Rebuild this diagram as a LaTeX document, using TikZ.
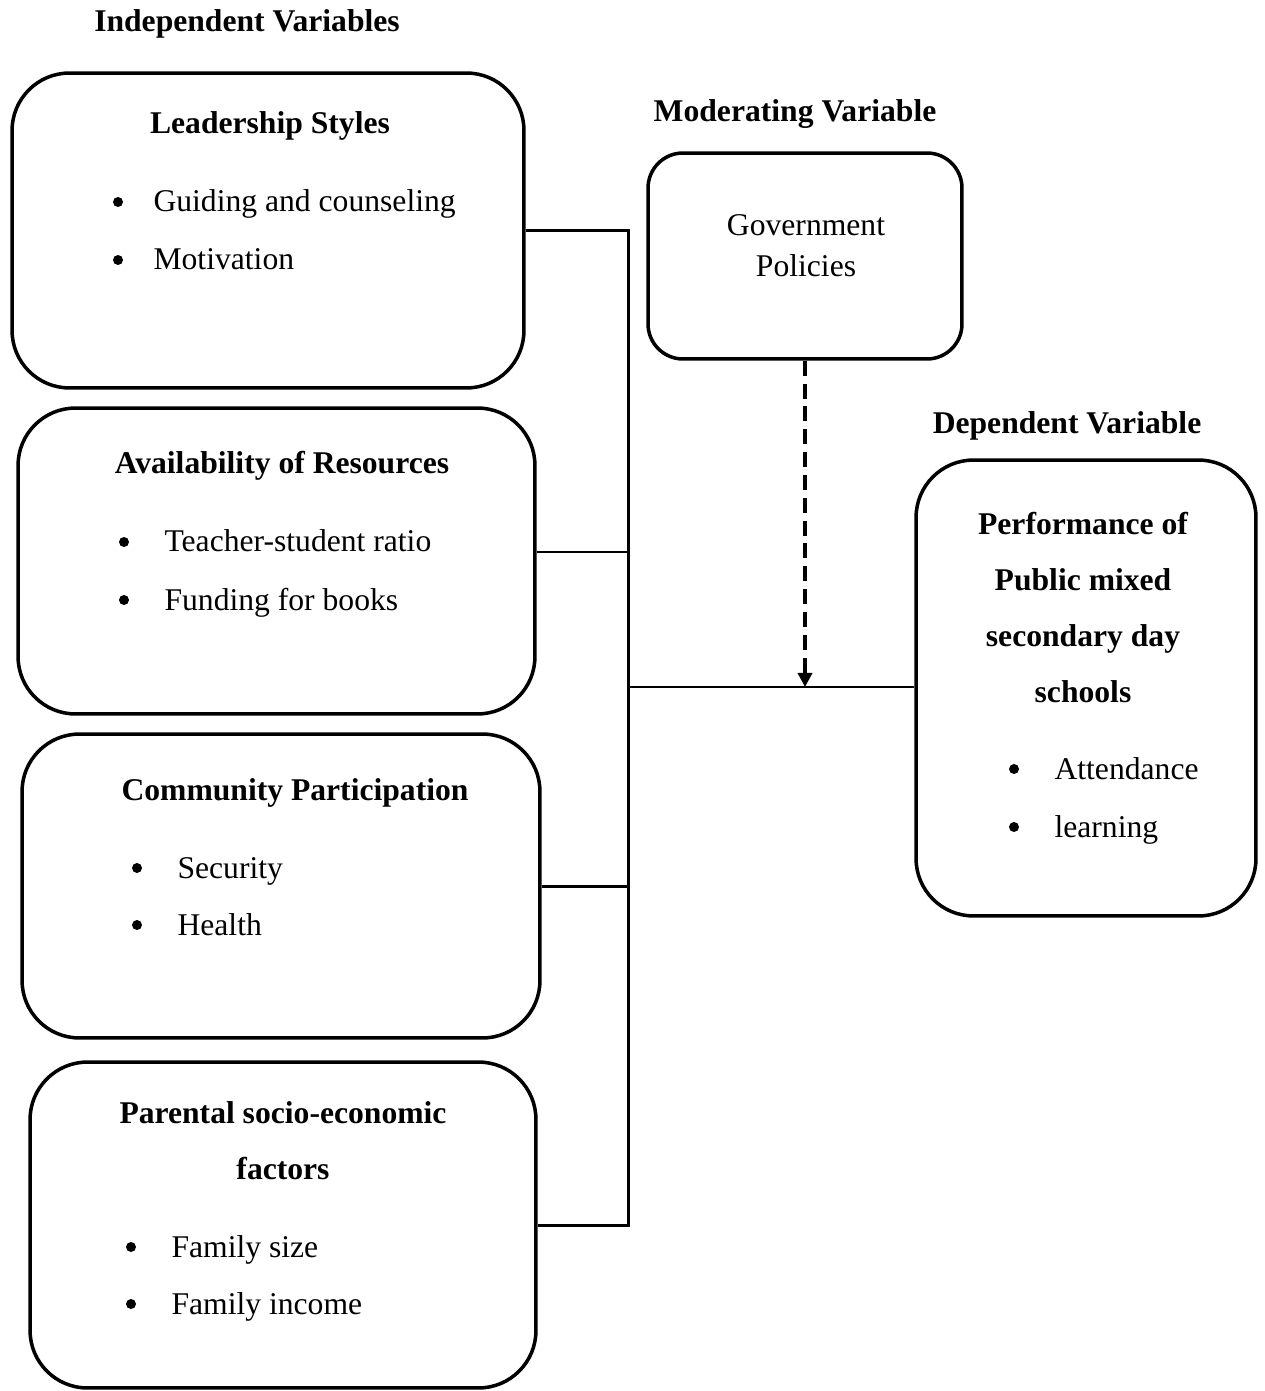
\documentclass[tikz,border=0pt]{standalone}
\usepackage{fontspec}
\setmainfont{Liberation Serif}
\usetikzlibrary{positioning,arrows.meta}

\begin{document}
\begin{tikzpicture}[x=0.02cm, y=-0.02cm,
    every node/.style={font=\fontsize{18}{22}\selectfont},
    varbox/.style={draw, line width=2pt, rounded corners=1.15cm, inner sep=0pt},
    heading/.style={font=\fontsize{18}{22}\selectfont\bfseries, anchor=base},
    plain/.style={anchor=base},
    dot/.style={circle, fill, inner sep=0pt, minimum size=0.2cm},
    item/.style={anchor=base west, yshift=-0.2cm},
    link/.style={line width=1.7pt}]
    \useasboundingbox (0,0) rectangle (1264,1391);

    % headings
    \node[heading] (indep) at (247,32) {Independent Variables};
    \node[heading] (moder) at (795,122) {Moderating Variable};
    \node[heading] (depen) at (1067,434) {Dependent Variable};

    % boxes
    \node[varbox, minimum width=10.24cm, minimum height=6.3cm] (lead) at (268,230.5) {};
    \node[varbox, minimum width=10.34cm, minimum height=6.12cm] (avail) at (276.5,561) {};
    \node[varbox, minimum width=10.36cm, minimum height=6.08cm] (comm) at (281,886) {};
    \node[varbox, minimum width=10.12cm, minimum height=6.52cm] (parent) at (283,1225) {};
    \node[varbox, rounded corners=0.7cm, minimum width=6.28cm, minimum height=4.12cm] (gov) at (805,256) {};
    \node[varbox, minimum width=6.8cm, minimum height=9.12cm] (perf) at (1086,688) {};

    % leadership styles
    \node[heading] (leadT) at (270,134) {Leadership Styles};
    \node[dot] (leadA) at (118,202) {};
    \node[right=0.48cm of leadA.east, item] (leadAt) {Guiding and counseling};
    \node[dot] (leadB) at (118,260) {};
    \node[right=0.48cm of leadB.east, item] (leadBt) {Motivation};

    % availability of resources
    \node[heading] (availT) at (282,474) {Availability of Resources};
    \node[dot] (availA) at (124,542) {};
    \node[right=0.58cm of availA.east, item] (availAt) {Teacher-student ratio};
    \node[dot] (availB) at (124,600) {};
    \node[right=0.58cm of availB.east, item] (availBt) {Funding for books};

    % community participation
    \node[heading] (commT) at (295,800) {Community Participation};
    \node[dot] (commA) at (137,868) {};
    \node[right=0.58cm of commA.east, item] (commAt) {Security};
    \node[dot] (commB) at (137,925) {};
    \node[right=0.58cm of commB.east, item] (commBt) {Health};

    % parental factors
    \node[heading] (parentT) at (283,1123) {Parental socio-economic};
    \node[heading] (parentU) at (283,1179) {factors};
    \node[dot] (parentA) at (131,1247) {};
    \node[right=0.58cm of parentA.east, item] (parentAt) {Family size};
    \node[dot] (parentB) at (131,1304) {};
    \node[right=0.58cm of parentB.east, item] (parentBt) {Family income};

    % government policies
    \node[plain] (govT) at (806,236) {Government};
    \node[plain] (govU) at (806,277) {Policies};

    % performance
    \node[heading] (perfT) at (1083,534) {Performance of};
    \node[heading] (perfU) at (1083,590) {Public mixed};
    \node[heading] (perfV) at (1083,646) {secondary day};
    \node[heading] (perfW) at (1083,702) {schools};
    \node[dot] (perfA) at (1014,769) {};
    \node[right=0.58cm of perfA.east, item] (perfAt) {Attendance};
    \node[dot] (perfB) at (1014,827) {};
    \node[right=0.58cm of perfB.east, item] (perfBt) {learning};

    % connectors
    \coordinate (busbot) at (628,1225);
    \coordinate (bustwo) at (628,552);
    \coordinate (busmid) at (628,687);
    \draw[link] (lead.east) -| (busbot) -- (busbot -| parent.east);
    \draw[link] (bustwo -| avail.east) -- (bustwo);
    \draw[link] (comm.east) -- (comm.east -| busbot);
    \draw[link] (busmid) -- (busmid -| perf.west);
    \draw[link, line width=2pt, dash pattern=on 8.5pt off 4.5pt, -{Triangle[length=8pt, width=8pt]}]
        (gov.south) -- (gov.south |- busmid);
\end{tikzpicture}
\end{document}
